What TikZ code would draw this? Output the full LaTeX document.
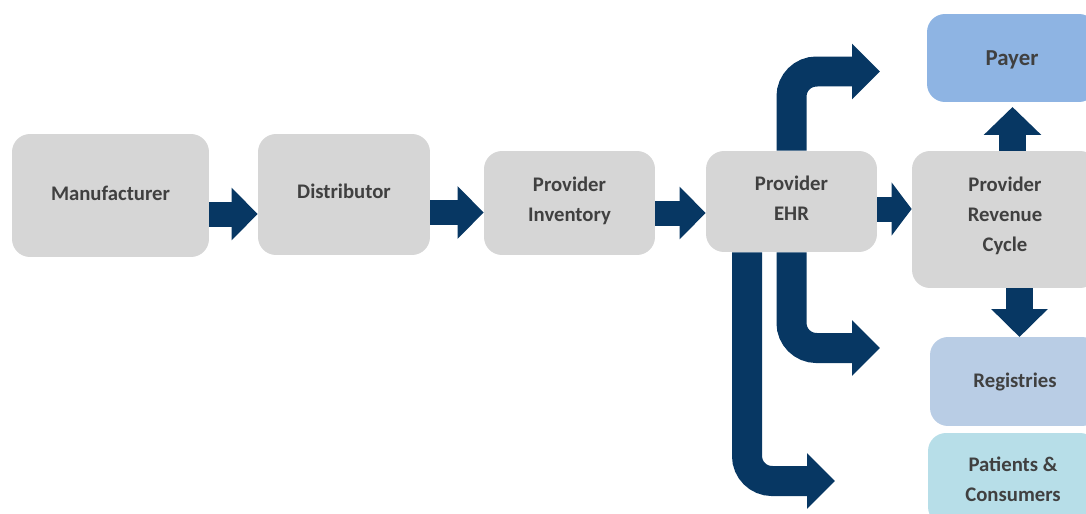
\documentclass[tikz,border=0pt]{standalone}
\usepackage{fontspec}
\setmainfont{Carlito}
\usepackage{tikz}
\usetikzlibrary{
	arrows.meta
}

\definecolor{navy}{HTML}{073763}
\definecolor{boxgrey}{HTML}{D6D6D6}
\definecolor{payerblue}{HTML}{8EB4E3}
\definecolor{regblue}{HTML}{B9CDE5}
\definecolor{patblue}{HTML}{B7DEE8}
\definecolor{labelgrey}{HTML}{404040}

\begin{document}
\begin{tikzpicture}[x=0.02cm,y=-0.02cm,
		block/.style={rectangle,rounded corners=0.36cm,fill=boxgrey,text=labelgrey,
			font=\fontsize{11.8}{17}\selectfont\bfseries,align=center,inner sep=0pt},
		flow/.style={draw=navy,line width=0.5cm,-{Triangle[length=0.52cm,width=1.02cm]}},
		bent/.style={draw=navy,line width=0.6cm,rounded corners=0.5cm,
			-{Triangle[length=0.56cm,width=1.08cm]},to path={|- (\tikztotarget)}}
	]
		\clip (0,0) rectangle (1086,514);

		\coordinate (lane1)  at (0,214);
		\coordinate (lane2)  at (0,212.5);
		\coordinate (lane3)  at (0,213);
		\coordinate (lane4)  at (0,209);
		\coordinate (topend) at (880,71.5);
		\coordinate (midend) at (880,348);
		\coordinate (lowend) at (835,481);
		\coordinate (paytip) at (1012.5,107);
		\coordinate (regtip) at (1019.5,337);

		\draw
			node[block,minimum width=3.94cm,minimum height=2.46cm,text depth=0.08cm] (man)  at (110.5,195.5) {Manufacturer}
			node[block,minimum width=3.44cm,minimum height=2.42cm,text depth=0.12cm] (dist) at (344,194.5)   {Distributor}
			node[block,minimum width=3.42cm,minimum height=2.08cm,text depth=0.16cm] (inv)  at (569.5,203)   {Provider\\Inventory}
			node[block,minimum width=3.42cm,minimum height=2.02cm,text depth=0.12cm] (ehr)  at (791.5,201.5) {Provider\\EHR}
			node[block,minimum width=3.72cm,minimum height=2.74cm,text depth=0.2cm]  (rev)  at (1005,219.5)  {Provider\\Revenue\\Cycle}
			node[block,fill=payerblue,minimum width=3.4cm,minimum height=1.76cm,text depth=0cm] (pay) at (1012,58) {\fontsize{13}{17}\selectfont Payer}
			node[block,fill=regblue,minimum width=3.4cm,minimum height=1.78cm]  (reg) at (1015,381.5)  {Registries}
			node[block,fill=patblue,minimum width=3.4cm,minimum height=1.84cm]  (pat) at (1013,479)    {Patients \&\\Consumers}

			(man.east |- lane1)  edge[flow] (dist.west |- lane1)
			(dist.east |- lane2) edge[flow] (inv.west |- lane2)
			(inv.east |- lane3)  edge[flow] (ehr.west |- lane3)
			(ehr.east |- lane4)  edge[flow,-{Triangle[length=0.4cm,width=1.04cm]}] (rev.west |- lane4)
			(rev.north -| paytip) edge[flow,line width=0.54cm,-{Triangle[length=0.56cm,width=1.12cm]}] (paytip)
			(rev.south -| regtip) edge[flow,line width=0.54cm,-{Triangle[length=0.56cm,width=1.1cm]}] (regtip)

			(ehr.north)                 edge[bent] (topend)
			(ehr.south)                 edge[bent] (midend)
			([xshift=-0.89cm]ehr.south) edge[bent] (lowend)
		;
	\end{tikzpicture}
\end{document}
